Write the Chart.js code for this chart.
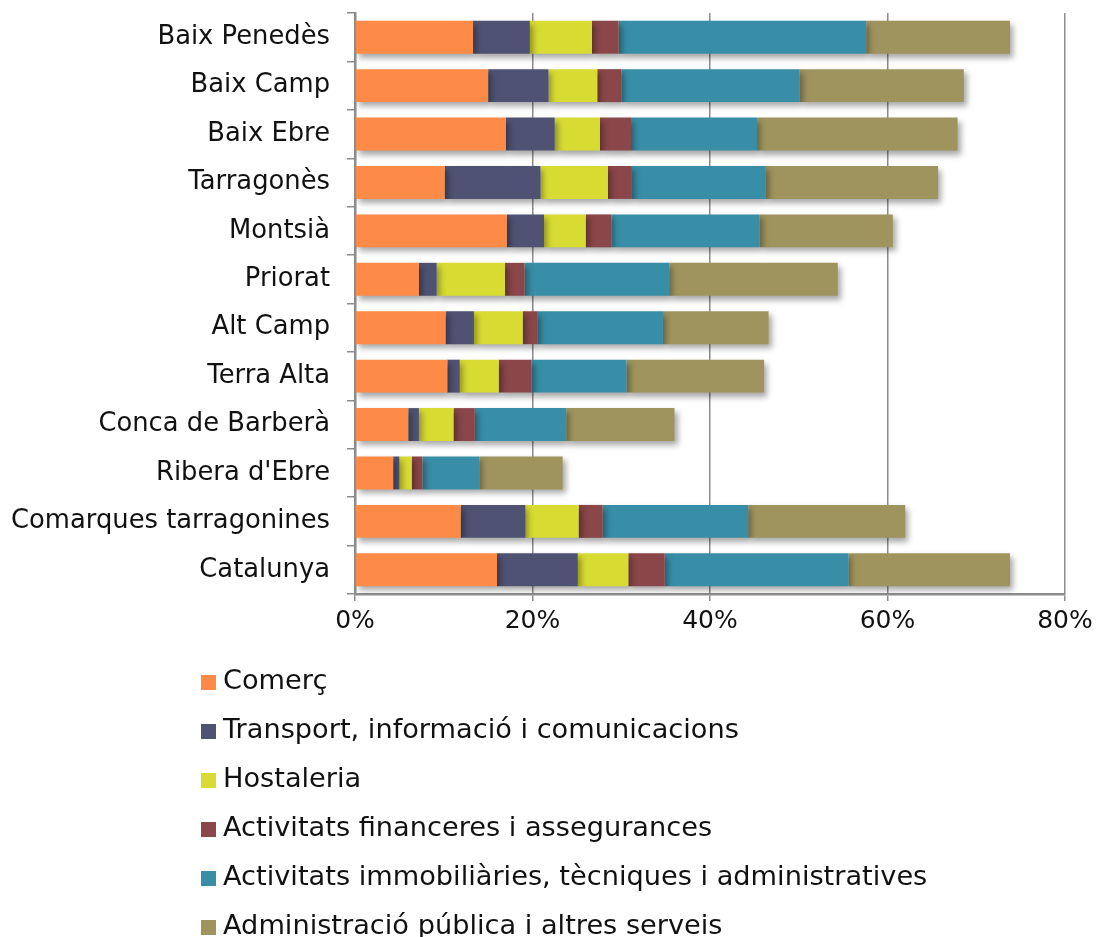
<!DOCTYPE html>
<html>
<head>
<meta charset="utf-8">
<script src="https://cdn.jsdelivr.net/npm/chart.js@4"></script>
<style>
  html, body { margin: 0; padding: 0; background: #fff; }
  #wrap { width: 1098px; height: 937px; }
</style>
</head>
<body>
<div id="wrap"><canvas id="sectorChart" width="1098" height="937"></canvas></div>
<script>
const comarques = ['Baix Penedès', 'Baix Camp', 'Baix Ebre', 'Tarragonès', 'Montsià', 'Priorat',
    'Alt Camp', 'Terra Alta', 'Conca de Barberà', "Ribera d'Ebre", 'Comarques tarragonines', 'Catalunya'];

// percentatges llegits del gràfic
const comerc      = [13.3, 15.0, 17.0, 10.1, 17.1, 7.2, 10.2, 10.4, 6.0, 4.3, 11.9, 16.0];
const transport   = [6.4, 6.8, 5.5, 10.8, 4.2, 2.0, 3.2, 1.4, 1.2, 0.7, 7.3, 9.1];
const hostaleria  = [7.0, 5.5, 5.1, 7.6, 4.7, 7.7, 5.5, 4.4, 3.9, 1.4, 6.0, 5.7];
const financeres  = [3.0, 2.7, 3.5, 2.7, 2.9, 2.2, 1.7, 3.7, 2.4, 1.2, 2.7, 4.1];
const immobiliar  = [27.9, 20.1, 14.2, 15.1, 16.7, 16.3, 14.1, 10.7, 10.3, 6.4, 16.4, 20.7];
const publica     = [16.2, 18.5, 22.6, 19.4, 15.0, 19.0, 11.9, 15.5, 12.2, 9.4, 17.7, 18.2];

const xTicks = [0, 20, 40, 60, 80];

const fontFamily = '"DejaVu Sans", sans-serif';
const gridColor = '#8c8c8c';

const series = [
    { label: 'Comerç', data: comerc, color: '#fd8a47' },
    { label: 'Transport, informació i comunicacions', data: transport, color: '#4f5272' },
    { label: 'Hostaleria', data: hostaleria, color: '#d8dc32' },
    { label: 'Activitats financeres i assegurances', data: financeres, color: '#8a4649' },
    { label: 'Activitats immobiliàries, tècniques i administratives', data: immobiliar, color: '#388ea7' },
    { label: 'Administració pública i altres serveis', data: publica, color: '#9f945d' }
];

// ombra suau sota les barres
const barShadow = {
    id: 'barShadow',
    beforeDatasetsDraw(chart) {
        const c = chart.ctx;
        c.save();
        c.shadowColor = 'rgba(0,0,0,0.35)';
        c.shadowBlur = 6;
        c.shadowOffsetX = 3;
        c.shadowOffsetY = 4;
    },
    afterDatasetsDraw(chart) {
        chart.ctx.restore();
    }
};

// llegenda vertical sota el gràfic
const verticalLegend = {
    id: 'verticalLegend',
    afterDraw(chart) {
        const c = chart.ctx;
        c.save();
        c.font = '27.2px ' + fontFamily;
        c.textBaseline = 'middle';
        c.textAlign = 'left';
        chart.data.datasets.forEach((ds, i) => {
            const y = 682 + i * 49;
            c.fillStyle = ds.backgroundColor;
            c.fillRect(201, y - 7, 15, 15);
            c.fillStyle = '#111';
            c.fillText(ds.label, 223, y);
        });
        c.restore();
    }
};

const ctx = document.getElementById('sectorChart').getContext('2d');
const sectorChart = new Chart(ctx, {
    type: 'bar',
    data: {
        labels: comarques,
        datasets: series.map(s => ({
            label: s.label,
            data: s.data,
            backgroundColor: s.color,
            borderWidth: 0,
            categoryPercentage: 0.68,
            barPercentage: 1.0
        }))
    },
    options: {
        indexAxis: 'y',
        responsive: false,
        animation: false,
        layout: { padding: { top: 13, right: 33, bottom: 293, left: 0 } },
        plugins: {
            legend: { display: false },
            tooltip: { enabled: false }
        },
        scales: {
            x: {
                stacked: true,
                min: 0,
                max: 80,
                afterBuildTicks: axis => { axis.ticks = xTicks.map(v => ({ value: v })); },
                afterFit: axis => { axis.height = 50; axis.paddingLeft = 0; axis.paddingRight = 0; },
                grid: { color: gridColor, lineWidth: 1.5, tickLength: 7, drawTicks: true },
                border: { color: gridColor, width: 2.5 },
                ticks: {
                    color: '#111',
                    font: { family: fontFamily, size: 25 },
                    padding: 5,
                    maxRotation: 0,
                    callback: v => v + '%'
                }
            },
            y: {
                stacked: true,
                afterFit: axis => { axis.width = 355; axis.paddingTop = 0; axis.paddingBottom = 0; },
                grid: { drawOnChartArea: false, color: gridColor, lineWidth: 1.5, tickLength: 8, offset: true },
                border: { color: gridColor, width: 2.5 },
                ticks: {
                    color: '#111',
                    font: { family: fontFamily, size: 25.8 },
                    padding: 17
                }
            }
        }
    },
    plugins: [barShadow, verticalLegend]
});
</script>
</body>
</html>
